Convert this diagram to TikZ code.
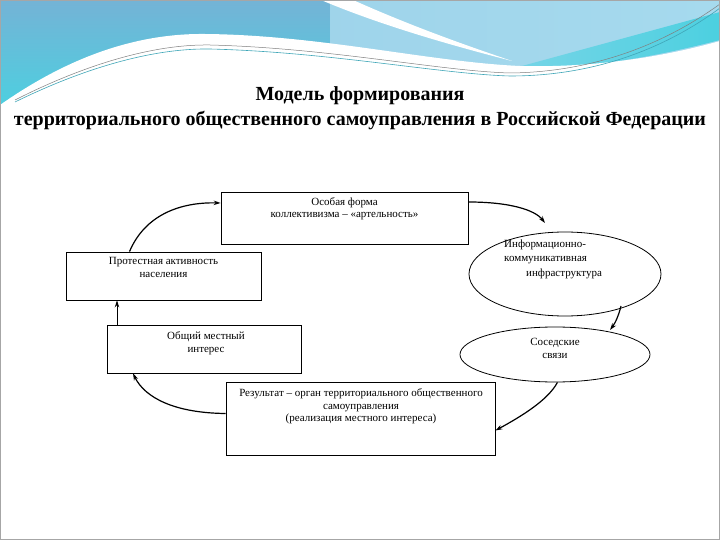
\documentclass[tikz,border=0pt]{standalone}
\usepackage{fontspec}
\setmainfont{Liberation Serif}
\usetikzlibrary{arrows.meta,shapes.geometric}
\definecolor{wavedark}{HTML}{74B3D6}
\definecolor{wavecyan}{HTML}{4CD0E0}
\definecolor{wavelight}{HTML}{A6DAEE}
\definecolor{waveline}{HTML}{3FA6B8}
\tikzset{
  box/.style={draw, line width=0.8pt, fill=white, inner sep=0pt},
  oval/.style={draw, ellipse, line width=0.8pt, fill=white, inner sep=0pt},
  txt/.style={font=\fontsize{11}{12.5}\selectfont, align=center, inner sep=0pt},
  ttl/.style={font=\bfseries\fontsize{20}{24}\selectfont, inner sep=0pt},
  flow/.style={line width=1.2pt, -{Stealth[length=7pt,width=4.5pt]}},
}
\begin{document}
\begin{tikzpicture}[x=1pt,y=-1pt]
\useasboundingbox (0,0) rectangle (720,540);
\fill[white] (0,0) rectangle (720,540);
% top decoration
\shade[top color=wavedark, bottom color=wavecyan] (0,0) rectangle (330,110);
\shade[left color=wavelight!85!wavedark, right color=wavelight] (330,0) rectangle (720,110);
\shade[left color=wavelight!50!wavecyan, right color=wavecyan] (500,72) -- (720,12) -- (720,40) .. controls (650,58) and (590,68) .. (520,68) -- cycle;
\fill[white] (0,110) -- (0,105) .. controls (50,70) and (120,33) .. (205,34)
  .. controls (320,35) and (430,62) .. (520,66) .. controls (600,68) and (670,55) .. (720,41)
  -- (720,110) -- cycle;
\fill[white] (321,0) -- (353,0) .. controls (420,30) and (480,50) .. (512,61)
  .. controls (450,45) and (380,25) .. (321,0) -- cycle;
\draw[waveline, line width=0.6pt] (15,102) .. controls (80,70) and (150,48) .. (210,49)
  .. controls (330,52) and (440,74) .. (510,76) .. controls (600,76) and (670,45) .. (720,8);
\draw[gray, line width=0.5pt] (15,100) .. controls (80,67) and (150,44) .. (210,45)
  .. controls (330,48) and (440,71) .. (510,73) .. controls (600,72) and (670,40) .. (720,4);
\draw[gray!70, line width=0.8pt] (0.4,0.4) rectangle (719.6,539.6);
% title
\node[ttl] (t1) at (360,96) {Модель формирования};
\node[ttl] (t2) at (360,121) {территориального общественного самоуправления в Российской Федерации};
% nodes
\node[box, minimum width=247pt, minimum height=52pt] (b1) at (344.5,218) {};
\node[txt, anchor=north] (b1t) at (344.5,197) {Особая форма\\коллективизма – «артельность»};
\node[oval, minimum width=192pt, minimum height=84pt] (e1) at (565,274) {};
\node[txt, font=\fontsize{11}{14.5}\selectfont, align=left, anchor=north west] (e1t) at (504,239.5) {Информационно-\\коммуникативная\\\hspace*{22pt}инфраструктура};
\node[box, minimum width=195pt, minimum height=48pt] (b2) at (163.5,276) {};
\node[txt, anchor=north] (b2t) at (163.5,257.5) {Протестная активность\\населения};
\node[box, minimum width=194pt, minimum height=48pt] (b3) at (204,349) {};
\node[txt, anchor=north] (b3t) at (206,331.5) {Общий местный\\интерес};
\node[oval, minimum width=190pt, minimum height=55pt] (e2) at (555,354.5) {};
\node[txt, anchor=north] (e2t) at (555,338.5) {Соседские\\связи};
\node[box, minimum width=269pt, minimum height=73pt] (b4) at (360.5,418.5) {};
\node[txt, anchor=north] (b4t) at (361,388.5) {Результат – орган территориального общественного\\самоуправления\\(реализация местного интереса)};
% connectors
\coordinate (a1s) at ([xshift=-34pt]b2.north);
\draw[flow] (a1s) .. controls (145,215) and (180,202) .. ([yshift=15pt]b1.west);
\coordinate (a2e) at (545,223);
\draw[flow] ([yshift=16pt]b1.east) .. controls (510,202) and (535,210) .. (a2e);
\coordinate (a3s) at (621,306);
\coordinate (a3e) at (610,330);
\draw[flow] (a3s) .. controls (619,314) and (616,322) .. (a3e);
\draw[flow] (e2.-85) .. controls (548,400) and (522,416) .. ([yshift=-12pt]b4.east);
\draw[flow] ([yshift=5pt]b4.west) .. controls (175,413) and (145,398) .. ([xshift=-71pt]b3.south);
\draw[flow, line width=1pt] ([xshift=-87pt]b3.north) -- ([xshift=-46.5pt]b2.south);
\end{tikzpicture}
\end{document}
